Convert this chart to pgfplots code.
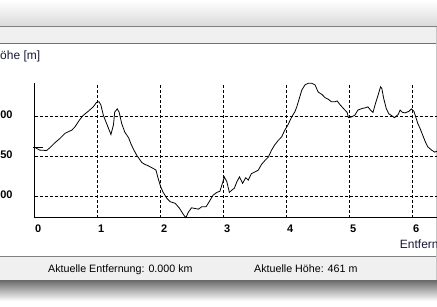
\documentclass[border=0pt]{standalone}
\usepackage{pgfplots}
\pgfplotsset{compat=1.18}
\usepackage{pgfplotstable}
\usepackage{fontspec}
\setmainfont{Liberation Sans}
\definecolor{barbg}{RGB}{240,240,240}
\definecolor{topgr}{RGB}{218,218,218}
\definecolor{edge}{RGB}{128,128,128}
\definecolor{edge2}{RGB}{112,112,112}
\definecolor{shadow}{RGB}{104,104,104}
\definecolor{lbl}{RGB}{24,24,56}

\pgfplotstableread{
km   m
0.00 461
0.08 457.5
0.19 457
0.24 460.4
0.32 466.6
0.40 472
0.48 478.4
0.53 480.4
0.59 482.5
0.64 486.6
0.71 495
0.77 501
0.85 506
0.93 511.6
0.98 517
1.02 518
1.05 514
1.09 501
1.14 491
1.21 477
1.25 489
1.27 505
1.31 509
1.34 505
1.38 491
1.43 480
1.49 473
1.53 465
1.565 459
1.62 451
1.70 442
1.75 439.6
1.80 438
1.88 434.6
1.925 432.5
1.96 422
2.00 411.6
2.04 404.6
2.10 397
2.15 393
2.23 391
2.30 384.6
2.36 377
2.40 373
2.44 380
2.49 385.4
2.54 384.6
2.60 383.7
2.65 386.6
2.72 386.6
2.77 393
2.83 401
2.89 404.6
2.94 406
2.98 416
3.01 424
3.05 418
3.09 404.6
3.13 407.5
3.17 410
3.21 418
3.25 424
3.30 416
3.35 423
3.39 420
3.44 428
3.50 430.4
3.55 432.5
3.60 439.6
3.66 445
3.71 449
3.76 457.5
3.81 464
3.87 470
3.92 474
3.97 482.5
4.02 489
4.08 499
4.13 505.4
4.16 511.6
4.20 522
4.24 532.5
4.29 539
4.34 541
4.40 541
4.45 539
4.50 530
4.56 527
4.61 523
4.66 521
4.71 518
4.77 518
4.80 519
4.85 514
4.90 509.6
4.96 504.6
4.98 498
5.03 499
5.08 501
5.13 507.5
5.20 509.6
5.25 510.4
5.29 511.6
5.33 507.5
5.37 504.6
5.41 516
5.45 526
5.49 536.6
5.51 534.6
5.54 522
5.58 509.6
5.62 503
5.67 500.4
5.71 498
5.77 502
5.80 507.5
5.84 504.6
5.88 504
5.94 506
5.98 509
6.02 506
6.04 501
6.08 491
6.12 484
6.16 476
6.20 468
6.24 461.6
6.30 457.5
6.35 455
6.386 456
}\profile

\begin{document}
\begin{tikzpicture}[x=1pt,y=1pt]
\useasboundingbox (0,0) rectangle (437,306);
% window chrome
\shade[top color=white, bottom color=topgr] (0,306) rectangle (437,280);
\fill[barbg] (0,280) rectangle (437,263);
\draw[edge, line width=1pt] (0,279.5) -- (437,279.5);
\draw[edge2, line width=1.2pt] (0,262.5) -- (437,262.5);
\fill[barbg] (0,49.5) rectangle (437,26);
\draw[edge, line width=1pt] (0,49.5) -- (437,49.5);
\shade[top color=shadow, bottom color=white] (0,26) rectangle (437,5);
\draw[black!22, line width=0.8pt] (436.5,26) -- (436.5,279);
% labels
\node[anchor=base west, inner sep=0pt, font=\fontsize{12}{14}\selectfont, text=lbl] at (-8.7,246.5) {Höhe [m]};
\node[anchor=base west, inner sep=0pt, font=\fontsize{12}{14}\selectfont, text=lbl] at (399.7,57.7) {Entfernung [km]};
\node[anchor=base west, inner sep=0pt, font=\fontsize{10.7}{13}\selectfont] at (48,34) {Aktuelle Entfernung: 0.000 km};
\node[anchor=base west, inner sep=0pt, font=\fontsize{10.7}{13}\selectfont] at (254,34) {Aktuelle Höhe: 461 m};
\begin{axis}[
  at={(34.7pt,88.3pt)}, anchor=south west,
  scale only axis, width=402.3pt, height=134.4pt,
  xmin=0, xmax=6.386, ymin=373, ymax=541,
  axis x line=bottom, axis y line=left,
  axis line style={-, black, line width=1pt},
  xtick={0,1,2,3,4,5,6}, ytick={400,450,500},
  major tick length=0pt,
  grid=major,
  major grid style={black, line width=0.8pt, dash pattern=on 3pt off 2pt},
  /pgf/number format/assume math mode=true,
  ticklabel style={font=\bfseries\fontsize{11}{13}\selectfont},
  xticklabel style={anchor=base, inner sep=0pt, xshift=3.5pt, yshift=-15pt},
  yticklabel style={anchor=base east, inner sep=0pt, xshift=-22pt, yshift=-2pt},
  clip=false,
]
\addplot[black, line width=0.8pt] table[x=km, y=m] {\profile};
\addplot[black, line width=0.8pt] coordinates {(-0.025,461) (0.13,461)};
\end{axis}
\end{tikzpicture}
\end{document}
